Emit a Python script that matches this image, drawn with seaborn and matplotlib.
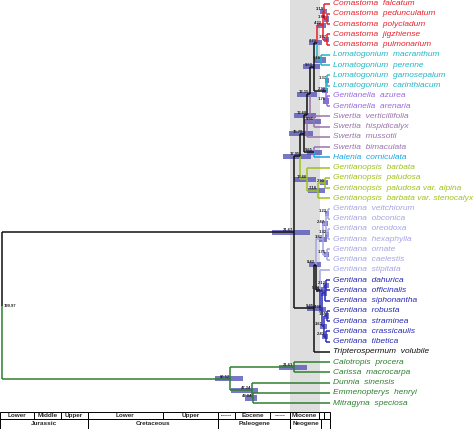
import numpy as np
import pandas as pd
import matplotlib.pyplot as plt
import seaborn as sns

# tips, top to bottom
taxa = [
    "Comastoma  falcatum", "Comastoma  pedunculatum", "Comastoma  polycladum",
    "Comastoma  jigzhiense", "Comastoma  pulmonarium",
    "Lomatogonium  macranthum", "Lomatogonium  perenne",
    "Lomatogonium  gamosepalum", "Lomatogonium  carinthiacum",
    "Gentianella  azurea", "Gentianella  arenaria",
    "Swertia  verticillifolia", "Swertia  hispidicalyx", "Swertia  mussotii",
    "Swertia  bimaculata", "Halenia  corniculata",
    "Gentianopsis  barbata", "Gentianopsis  paludosa",
    "Gentianopsis  paludosa var. alpina", "Gentianopsis  barbata var. stenocalyx",
    "Gentiana  veitchiorum", "Gentiana  obconica", "Gentiana  oreodoxa",
    "Gentiana  hexaphylla", "Gentiana  ornate", "Gentiana  caelestis",
    "Gentiana  stipitata",
    "Gentiana  dahurica", "Gentiana  officinalis", "Gentiana  siphonantha",
    "Gentiana  robusta", "Gentiana  straminea", "Gentiana  crassicaulis",
    "Gentiana  tibetica",
    "Tripterospermum  volubile",
    "Calotropis  procera", "Carissa  macrocarpa", "Dunnia  sinensis",
    "Emmenopterys  henryi", "Mitragyna  speciosa",
]
groups = (["Comastoma"] * 5 + ["Lomatogonium"] * 4 + ["Gentianella"] * 2
          + ["Swertia"] * 4 + ["Halenia"] + ["Gentianopsis"] * 4
          + ["Gentiana I"] * 7 + ["Gentiana II"] * 7 + ["Tripterospermum"]
          + ["Outgroup"] * 5)
group_colors = {
    "Comastoma": "#e8222c", "Lomatogonium": "#1fb6c6", "Gentianella": "#9a68e0",
    "Swertia": "#9a72ae", "Halenia": "#1aa6e6", "Gentianopsis": "#9fc21c",
    "Gentiana I": "#a6a6e4", "Gentiana II": "#2a2ab6",
    "Tripterospermum": "#111111", "Outgroup": "#2f7f2f",
}

# internal nodes (children: tip index or node name), ages in Ma
node_names = ["pp", "fpp", "jp", "com", "mp", "cl", "gc", "aa", "gcaa", "lg",
              "vh", "swa", "swb", "bh", "a1", "pal", "pb", "gop", "a",
              "vo", "oh", "voh", "oc", "lt", "do", "dos", "rs", "ct", "rsct",
              "dk", "sd", "gen", "gtr", "ing", "cc", "em", "dem", "out", "root"]
node_children = [[1, 2], [0, "pp"], [3, 4], ["fpp", "jp"], [5, 6], ["com", "mp"],
                 [7, 8], [9, 10], ["gc", "aa"], ["cl", "gcaa"],
                 [11, 12], ["lg", "vh"], ["swa", 13], [14, 15], ["swb", "bh"],
                 [17, 18], ["pal", 19], [16, "pb"], ["a1", "gop"],
                 [20, 21], [22, 23], ["vo", "oh"], [24, 25], ["voh", "oc"],
                 [27, 28], ["do", 29], [30, 31], [32, 33], ["rs", "ct"],
                 ["dos", "rsct"], [26, "dk"], ["lt", "sd"], ["gen", 34],
                 ["a", "gtr"], [35, 36], [38, 39], [37, "em"], ["cc", "dem"],
                 ["ing", "out"]]
node_ages = [1.86, 3.19, 1.57, 4.22, 5.16, 7.73, 1.37, 1.76, 2.22, 9.63,
             9.56, 12.15, 13.68, 9.65, 15.79, 2.90, 7.18, 13.66, 17.95,
             1.22, 1.32, 2.47, 1.75, 3.82, 2.12, 3.06, 1.55, 2.43, 3.61,
             4.38, 5.74, 8.42, 9.45, 21.67, 21.61, 47.04, 47.24, 60.52, 199.97]
hpd_low = [0.6, 1.5, 0.4, 2.2, 2.4, 4.4, 0.3, 0.4, 0.9, 5.8,
           5.0, 7.6, 8.6, 4.5, 10.2, 0.9, 2.8, 8.2, 11.2,
           0.3, 0.3, 1.0, 0.5, 1.9, 0.7, 1.4, 0.5, 0.9, 1.8,
           2.4, 3.2, 5.0, 5.8, 12.0, 14.0, 44.5, 44.0, 53.0, np.nan]
hpd_high = [3.6, 5.6, 3.3, 7.6, 9.5, 12.5, 3.0, 3.8, 4.8, 16.5,
            15.5, 19.8, 21.5, 14.0, 24.5, 5.6, 13.0, 21.5, 28.5,
            2.6, 2.9, 4.6, 3.6, 6.4, 3.8, 5.0, 3.0, 4.4, 5.6,
            6.8, 8.4, 12.6, 13.8, 35.0, 31.0, 51.5, 60.0, 70.0, np.nan]

# geological time scale (Ma)
epoch_names = ["Lower", "Middle", "Upper", "Lower", "Upper", "Paleocene",
               "Eocene", "Oligocene", "Miocene", "", ""]
epoch_bounds = [201.3, 180.0, 164.0, 147.5, 101.5, 68.0, 57.5, 36.5, 24.2, 6.4, 3.2, 0.0]
period_names = ["Jurassic", "Cretaceous", "Paleogene", "Neogene", ""]
period_bounds = [201.3, 147.5, 68.0, 24.2, 5.0, 0.0]
band = (24.2, 5.6)

sns.set_theme(style="white")
plt.rcParams["font.family"] = ["Liberation Sans", "DejaVu Sans"]

fig = plt.figure(figsize=(4.74, 4.29), dpi=100)
ax = fig.add_axes([0, 0, 1, 1])

# layout
pos = {}
tips_under = {}
for i in range(len(taxa)):
    pos[i] = (0.0, float(i))
    tips_under[i] = [i]
for name, kids, age in zip(node_names, node_children, node_ages):
    pos[name] = (age, np.mean([pos[k][1] for k in kids]))
    tips_under[name] = sum([tips_under[k] for k in kids], [])


def clade_color(k):
    g = set(groups[t] for t in tips_under[k])
    return group_colors[g.pop()] if len(g) == 1 else "#111111"


ax.fill_between(list(band), -1, 39.84, color="#dedede", lw=0, zorder=0)

bars = pd.DataFrame({"y": [pos[n][1] for n in node_names],
                     "lo": hpd_low, "hi": hpd_high}).dropna()
ax.barh(bars["y"], bars["hi"] - bars["lo"], left=bars["lo"], height=0.5,
        color="#5656b8", alpha=0.8, lw=0, zorder=2)

for name, kids in zip(node_names, node_children):
    x0, y0 = pos[name]
    for k in kids:
        x1, y1 = pos[k]
        c = clade_color(k)
        ax.plot([x0, x0], [y0, y1], color=c, lw=1.1, zorder=3,
                solid_capstyle="butt")
        ax.plot([x0, x1], [y1, y1], color=c, lw=1.1, zorder=3,
                solid_capstyle="butt")
    lab = f"{node_ages[node_names.index(name)]:.2f}"
    if name == "root":
        ax.text(x0 - 1.5, y0, lab, ha="left", va="center", fontsize=3,
                fontweight="bold", color="#222222", zorder=4)
    else:
        ax.text(x0 + 0.4, y0 - 0.02, lab, ha="right", va="bottom", fontsize=3,
                fontweight="bold", color="#222222", zorder=4)

for i, t in enumerate(taxa):
    ax.text(-2.2, i, t, ha="left", va="center", fontsize=6.0, style="italic",
            color=group_colors[groups[i]])

# time scale boxes
for names, bounds, yc, h, fs in [(epoch_names, epoch_bounds, 40.215, 0.75, 4.6),
                                  (period_names, period_bounds, 41.14, 1.1, 4.6)]:
    for j, nm in enumerate(names):
        a0, a1 = bounds[j], bounds[j + 1]
        ax.barh(yc, a1 - a0, left=a0, height=h, color="white",
                edgecolor="black", lw=0.7, zorder=5)
        size = fs if (a0 - a1) > 14 else 1.6
        ax.text((a0 + a1) / 2, yc if h < 1 else yc - 0.12, nm, ha="center",
                va="center", fontsize=size, fontweight="bold", zorder=6)

ax.set_xlim(201.0, -88.0)
ax.set_ylim(41.53, -0.36)
ax.axis("off")

fig.savefig("out.png", dpi=100)
